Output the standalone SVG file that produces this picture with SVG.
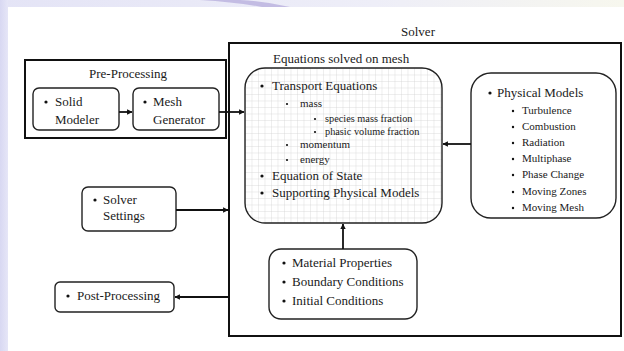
<svg xmlns="http://www.w3.org/2000/svg" width="624" height="351" viewBox="0 0 624 351" font-family="'Liberation Serif', 'Times New Roman', serif">
<defs>
<style>
text{font-family:'Liberation Serif','Times New Roman',serif;fill:#1a1a1a}
.t13{font-size:13px}
.t11{font-size:11px}
.t10{font-size:10.3px}
.outer{fill:none;stroke:#111;stroke-width:2}
.box{fill:#fff;stroke:#222;stroke-width:1.4}
.conn{stroke:#111;stroke-width:1.8;fill:none}
.bul{fill:#111}
</style>
<linearGradient id="bgL" x1="0" y1="0" x2="1" y2="0">
<stop offset="0" stop-color="#d8d8f2"/><stop offset="1" stop-color="#e6e6f7"/>
</linearGradient>
<linearGradient id="bgT" x1="0" y1="0" x2="1" y2="0">
<stop offset="0" stop-color="#e4e4f6"/><stop offset="0.6" stop-color="#eeeef8"/><stop offset="1" stop-color="#f7f7ee"/>
</linearGradient>
<pattern id="grid" patternUnits="userSpaceOnUse" width="6.5" height="6.5" x="245" y="68">
<path d="M6.5 0 L0 0 0 6.5" fill="none" stroke="#cfcfcf" stroke-width="0.7"/>
</pattern>
<marker id="ah" viewBox="0 0 6 6" refX="5.5" refY="3" markerWidth="3" markerHeight="3" orient="auto" markerUnits="strokeWidth">
<path d="M0 0 L6 3 L0 6 z" fill="#111"/>
</marker>
</defs>

<!-- background -->
<rect x="0" y="0" width="624" height="351" fill="url(#bgT)"/>
<rect x="0" y="0" width="8" height="351" fill="url(#bgL)"/>
<path d="M200 0 Q235 2 262 7 L290 7 Q265 1 240 0 Z" fill="#b9b0dd" opacity="0.8"/>
<rect x="8" y="7" width="616" height="344" fill="#fff"/>

<!-- Solver -->
<g id="solver">
<rect class="outer" x="229" y="43" width="392" height="293"/>
<text class="t13" x="418" y="36" text-anchor="middle">Solver</text>
</g>

<!-- Pre-Processing -->
<g id="preprocessing">
<rect class="outer" x="25" y="60" width="201" height="78"/>
<text class="t13" x="128" y="78" text-anchor="middle">Pre-Processing</text>
</g>

<g id="solid-modeler">
<rect class="box" x="33" y="88" width="86" height="42" rx="6"/>
<circle class="bul" cx="46" cy="102" r="1.6"/>
<text class="t13" x="55" y="106">Solid</text>
<text class="t13" x="55" y="124">Modeler</text>
</g>

<g id="mesh-generator">
<rect class="box" x="133" y="88" width="86" height="42" rx="6"/>
<circle class="bul" cx="145" cy="102" r="1.6"/>
<text class="t13" x="153" y="106">Mesh</text>
<text class="t13" x="153" y="124">Generator</text>
</g>

<g id="equations">
<text class="t13" x="273" y="63">Equations solved on mesh</text>
<rect x="245" y="68" width="197" height="155" rx="20" fill="#fff"/>
<rect x="245" y="68" width="197" height="155" rx="20" fill="url(#grid)" stroke="#222" stroke-width="1.4"/>
<circle class="bul" cx="262" cy="86" r="1.6"/>
<text class="t13" x="272" y="90">Transport Equations</text>
<circle class="bul" cx="287" cy="104" r="1.1"/>
<text class="t11" x="300" y="107">mass</text>
<circle class="bul" cx="315" cy="119" r="1.1"/>
<text class="t10" x="325" y="122">species mass fraction</text>
<circle class="bul" cx="315" cy="132" r="1.1"/>
<text class="t10" x="325" y="135">phasic volume fraction</text>
<circle class="bul" cx="287" cy="145" r="1.1"/>
<text class="t11" x="300" y="148">momentum</text>
<circle class="bul" cx="287" cy="160" r="1.1"/>
<text class="t11" x="300" y="163">energy</text>
<circle class="bul" cx="262" cy="176" r="1.6"/>
<text class="t13" x="272" y="180">Equation of State</text>
<circle class="bul" cx="262" cy="193" r="1.6"/>
<text class="t13" x="272" y="197">Supporting Physical Models</text>
</g>

<g id="physical-models">
<rect class="box" x="471" y="73" width="145" height="145" rx="20"/>
<circle class="bul" cx="490" cy="93" r="1.6"/>
<text class="t13" x="497" y="97">Physical Models</text>
<circle class="bul" cx="513" cy="111" r="1.2"/>
<text class="t11" x="522" y="114">Turbulence</text>
<circle class="bul" cx="513" cy="127" r="1.2"/>
<text class="t11" x="522" y="130">Combustion</text>
<circle class="bul" cx="513" cy="143" r="1.2"/>
<text class="t11" x="522" y="146">Radiation</text>
<circle class="bul" cx="513" cy="159" r="1.2"/>
<text class="t11" x="522" y="162">Multiphase</text>
<circle class="bul" cx="513" cy="175" r="1.2"/>
<text class="t11" x="522" y="178">Phase Change</text>
<circle class="bul" cx="513" cy="192" r="1.2"/>
<text class="t11" x="522" y="195">Moving Zones</text>
<circle class="bul" cx="513" cy="208" r="1.2"/>
<text class="t11" x="522" y="211">Moving Mesh</text>
</g>

<g id="material-properties">
<rect class="box" x="269" y="249" width="148" height="70" rx="12"/>
<circle class="bul" cx="284" cy="263" r="1.6"/>
<text class="t13" x="292" y="267">Material Properties</text>
<circle class="bul" cx="284" cy="282" r="1.6"/>
<text class="t13" x="292" y="286">Boundary Conditions</text>
<circle class="bul" cx="284" cy="301" r="1.6"/>
<text class="t13" x="292" y="305">Initial Conditions</text>
</g>

<g id="solver-settings">
<rect class="box" x="82" y="187" width="94" height="44" rx="6"/>
<circle class="bul" cx="95" cy="200" r="1.6"/>
<text class="t13" x="103" y="204">Solver</text>
<text class="t13" x="103" y="220">Settings</text>
</g>

<g id="post-processing">
<rect class="box" x="55" y="282" width="119" height="30" rx="5"/>
<circle class="bul" cx="68" cy="296" r="1.6"/>
<text class="t13" x="77" y="300">Post-Processing</text>
</g>

<g id="connectors">
<line class="conn" x1="119" y1="112" x2="132" y2="112" marker-end="url(#ah)"/>
<line class="conn" x1="219" y1="112" x2="244" y2="112" marker-end="url(#ah)"/>
<line class="conn" x1="471" y1="144" x2="443" y2="144" marker-end="url(#ah)"/>
<line class="conn" x1="343" y1="249" x2="343" y2="224" marker-end="url(#ah)"/>
<line class="conn" x1="176" y1="210" x2="228" y2="210" marker-end="url(#ah)"/>
<line class="conn" x1="229" y1="297" x2="175" y2="297" marker-end="url(#ah)"/>
</g>
</svg>
